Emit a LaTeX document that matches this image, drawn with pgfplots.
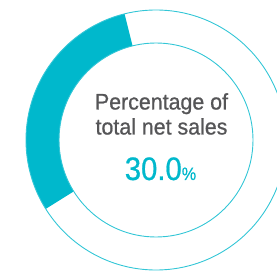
\documentclass[border=0pt]{standalone}
\usepackage{fontspec}
\setmainfont{Liberation Sans}
\newfontfamily\labfont[FakeBold=0.8,FakeStretch=0.95]{Liberation Sans}
\newfontfamily\numfont[FakeBold=0.6,FakeStretch=0.9]{Liberation Sans}
\usepackage{pgfplots}
\usepackage{pgfplotstable}
\pgfplotsset{compat=1.18}
\definecolor{teal1}{RGB}{0,184,204}
\definecolor{txt}{RGB}{85,85,87}
\pgfplotstableread{
share
30.0
}\datatable
\pgfplotstablegetelem{0}{share}\of\datatable
\let\share\pgfplotsretval
\begin{document}
\begin{tikzpicture}
\begin{axis}[hide axis, x=1pt, y=1pt, xmin=0, xmax=277, ymin=0, ymax=274,
  scale only axis, clip=true]
\pgfmathsetmacro\startang{104}
\pgfmathsetmacro\endang{104+3.6*\share}
\fill[teal1] (axis cs:{156+130*cos(\startang)},{134+130*sin(\startang)})
  arc[start angle=\startang, end angle=\endang, radius=130pt]
  -- (axis cs:{156+97*cos(\endang)},{134+97*sin(\endang)})
  arc[start angle=\endang, end angle=\startang, radius=97pt] -- cycle;
\draw[teal1!80, line width=0.9pt] (axis cs:156,134) circle[radius=130pt];
\draw[teal1!80, line width=0.9pt] (axis cs:156,134) circle[radius=97pt];
\node[anchor=base, text=txt, font=\labfont\fontsize{22.5}{23}\selectfont, inner sep=0pt] at (axis cs:161.5,164.5) {Percentage of};
\node[anchor=base, text=txt, font=\labfont\fontsize{22.5}{23}\selectfont, inner sep=0pt] at (axis cs:161.5,139.5) {total net sales};
\node[anchor=base, text=teal1, inner sep=0pt] at (axis cs:160.5,94) {\numfont\fontsize{32.5}{33}\selectfont 30.0\fontsize{18}{18}\selectfont\%};
\end{axis}
\pgfresetboundingbox
\useasboundingbox (current axis.south west) rectangle (current axis.north east);
\end{tikzpicture}
\end{document}
